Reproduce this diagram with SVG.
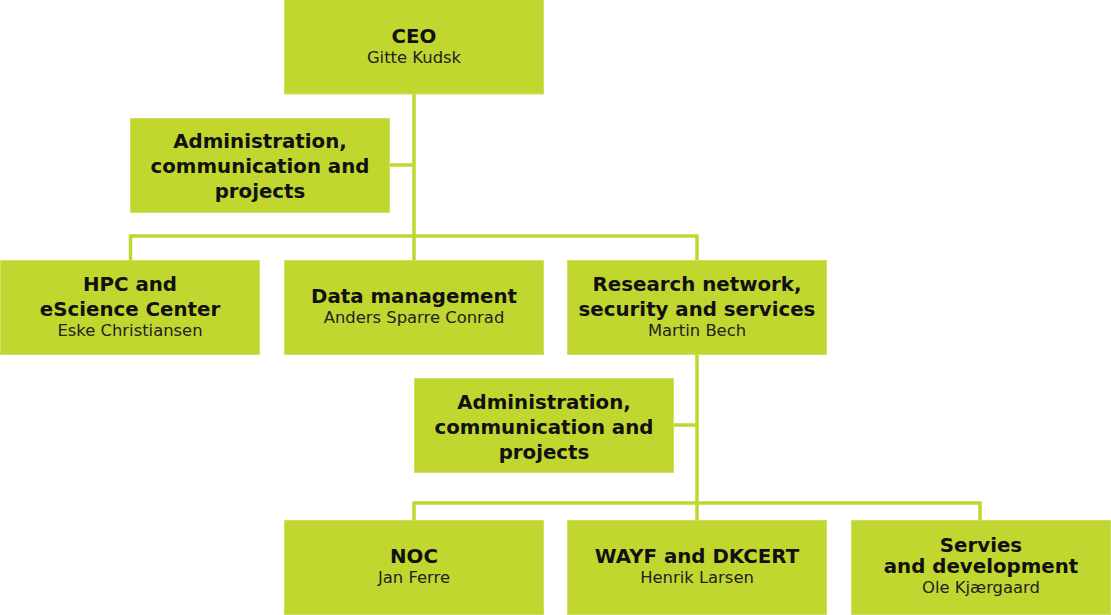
<svg xmlns="http://www.w3.org/2000/svg" width="1111" height="615" viewBox="0 0 1111 615">
<style>
.box{fill:#c1d72f;stroke:#cfe060;stroke-width:1}
.conn{fill:none;stroke:#c1d72f;stroke-width:3.5}
.t{font-family:"DejaVu Sans",sans-serif;font-weight:bold;font-size:19.8px;fill:#111;text-anchor:middle}
.s{font-family:"DejaVu Sans",sans-serif;font-size:16.4px;fill:#222;text-anchor:middle}
</style>
<rect width="1111" height="615" fill="#fff"/>
<g id="connectors">
<path class="conn" d="M414 94V260M390 165H414M130.5 236H697M130.5 234.5V260M697 234.5V260"/>
<path class="conn" d="M697 354V520M673 425H697M414 503H980M414 501.5V520M980 501.5V520"/>
</g>
<g id="ceo"><rect class="box" x="284.5" y="-1" width="259" height="95"/><text class="t" x="414" y="43">CEO</text><text class="s" x="414" y="63">Gitte Kudsk</text></g>
<g id="admin1"><rect class="box" x="130.5" y="118.5" width="259" height="94"/><text class="t" x="260" y="148">Administration,</text><text class="t" x="260" y="173">communication and</text><text class="t" x="260" y="198">projects</text></g>
<g id="hpc"><rect class="box" x="0.5" y="260.5" width="259" height="94"/><text class="t" x="130" y="291">HPC and</text><text class="t" x="130" y="316">eScience Center</text><text class="s" x="130" y="336">Eske Christiansen</text></g>
<g id="data"><rect class="box" x="284.5" y="260.5" width="259" height="94"/><text class="t" x="414" y="303">Data management</text><text class="s" x="414" y="323">Anders Sparre Conrad</text></g>
<g id="research"><rect class="box" x="567.5" y="260.5" width="259" height="94"/><text class="t" x="697" y="291">Research network,</text><text class="t" x="697" y="316">security and services</text><text class="s" x="697" y="336">Martin Bech</text></g>
<g id="admin2"><rect class="box" x="414.5" y="378.5" width="259" height="94"/><text class="t" x="544" y="409">Administration,</text><text class="t" x="544" y="434">communication and</text><text class="t" x="544" y="459">projects</text></g>
<g id="noc"><rect class="box" x="284.5" y="520.5" width="259" height="94"/><text class="t" x="414" y="563">NOC</text><text class="s" x="414" y="583">Jan Ferre</text></g>
<g id="wayf"><rect class="box" x="567.5" y="520.5" width="259" height="94"/><text class="t" x="697" y="563">WAYF and DKCERT</text><text class="s" x="697" y="583">Henrik Larsen</text></g>
<g id="servies"><rect class="box" x="851.5" y="520.5" width="259" height="94"/><text class="t" x="981" y="552">Servies</text><text class="t" x="981" y="573">and development</text><text class="s" x="981" y="593">Ole Kjærgaard</text></g>
</svg>
